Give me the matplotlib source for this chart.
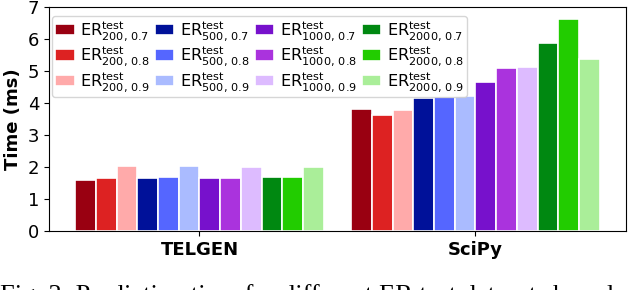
import matplotlib
matplotlib.use("Agg")
import matplotlib.pyplot as plt
import numpy as np

groups = ["TELGEN", "SciPy"]
series = [
    ("200", "0.7"), ("200", "0.8"), ("200", "0.9"),
    ("500", "0.7"), ("500", "0.8"), ("500", "0.9"),
    ("1000", "0.7"), ("1000", "0.8"), ("1000", "0.9"),
    ("2000", "0.7"), ("2000", "0.8"), ("2000", "0.9"),
]
telgen = [1.59, 1.65, 2.04, 1.66, 1.68, 2.03, 1.65, 1.66, 1.99, 1.68, 1.68, 1.99]
scipy_vals = [3.81, 3.63, 3.77, 4.16, 4.18, 4.22, 4.65, 5.10, 5.11, 5.875, 6.63, 5.375]
colors = ["#990011", "#dd2222", "#ffaaaa",
          "#001199", "#5566ff", "#aabbff",
          "#7711cc", "#aa33dd", "#ddbbff",
          "#008811", "#22cc00", "#aaee99"]

fig = plt.figure(figsize=(6.4, 2.9), dpi=100)
ax = fig.add_axes([0.0766, 0.2034, 0.9014, 0.7725])

x = np.arange(len(groups))
w = 0.075
n = len(series)
for i, (nn, p) in enumerate(series):
    vals = [telgen[i], scipy_vals[i]]
    ax.bar(x + (i - (n - 1) / 2) * w, vals, w, color=colors[i],
           edgecolor="white", linewidth=1.2,
           label=r"$\mathrm{ER}^{\mathrm{test}}_{%s,\,%s}$" % (nn, p))

ax.set_ylim(0, 7)
ax.set_yticks(range(8))
ax.set_xticks(x)
ax.set_xticklabels(groups, fontweight="bold", fontsize=13)
ax.tick_params(axis="y", labelsize=13)
ax.set_ylabel("Time (ms)", fontweight="bold", fontsize=13)

leg = ax.legend(loc="upper left", bbox_to_anchor=(0.0, 0.975), ncol=4,
                fontsize=11.6, handlelength=1.2,
                handletextpad=0.35, columnspacing=0.3, labelspacing=0.1,
                borderpad=0.2, borderaxespad=0.2, frameon=True)

fig.text(0.0, -0.041, "Fig. 3: Prediction time for different ER test datasets based on",
         family="Liberation Serif", fontsize=19, ha="left", va="baseline")

fig.savefig("out.png", dpi=100)
